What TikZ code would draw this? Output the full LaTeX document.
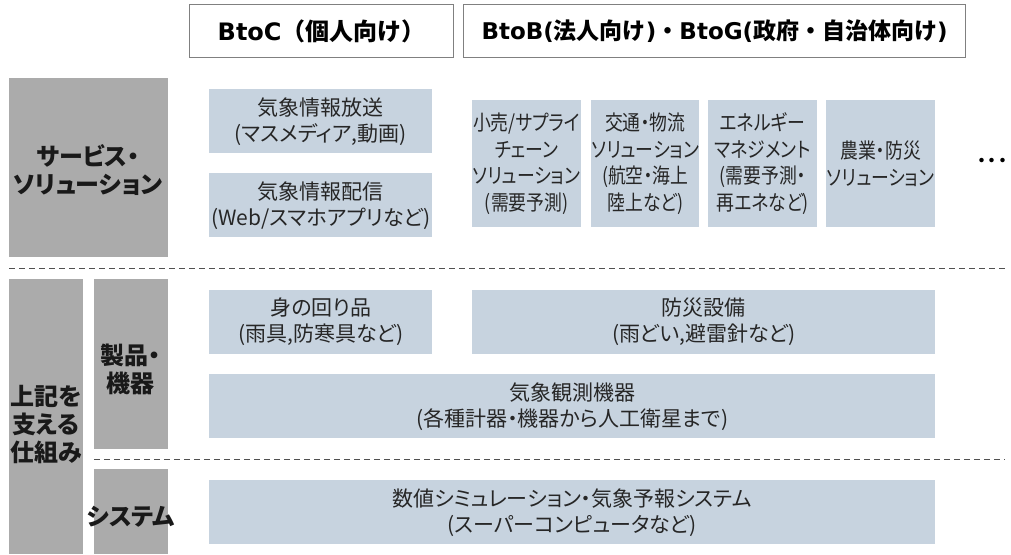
\documentclass[tikz,border=0pt]{standalone}
\usepackage{fontspec}
\setmainfont{Noto Sans CJK JP}[RawFeature=+palt]
\newfontfamily\plainjp{Noto Sans CJK JP}
\newfontfamily\paltjp{Noto Sans CJK JP}[RawFeature=+palt]
\newfontfamily\narrowjp{Noto Sans CJK JP}[RawFeature=+palt, FakeStretch=0.85]
\newfontfamily\latinbold{DejaVu Sans}[BoldFont={DejaVu Sans Bold}]
\definecolor{labelgray}{HTML}{ABABAB}
\definecolor{cellblue}{HTML}{C7D3DF}
\definecolor{framegray}{HTML}{808080}
\definecolor{dashgray}{HTML}{505050}
\tikzset{
  cell/.style={fill=cellblue, inner sep=0pt, align=center, anchor=north west,
    font=\fontsize{21}{26}\selectfont, text=black!85},
  narrowcell/.style={cell, font=\narrowjp\fontsize{21}{26.5}\selectfont},
  graylabel/.style={fill=labelgray, inner sep=0pt, anchor=north west},
  labeltext/.style={align=center, inner sep=0pt, font=\bfseries\fontsize{24}{28}\selectfont, text=black!90},
  header/.style={draw=framegray, line width=1.3pt, fill=white, inner sep=0pt, anchor=north west,
    font=\plainjp\bfseries\fontsize{24}{28}\selectfont},
  sepline/.style={draw=dashgray, line width=0.9pt, dash pattern=on 6pt off 4pt}
}
\newcommand\cellnode[7][cell]{\node[#1, minimum width=#5pt, minimum height=#6pt] (#2) at (#3,#4) {#7};}
\newcommand\grayblock[5]{\node[graylabel, minimum width=#4pt, minimum height=#5pt] (#1) at (#2,#3) {};}
\begin{document}
\begin{tikzpicture}[x=1pt, y=-1pt]
\useasboundingbox (0,0) rectangle (1011,554);
% headers
\node[header, minimum width=264pt, minimum height=53pt] (hc) at (189,4) {{\latinbold\bfseries BtoC}（個人向け）};
\node[header, minimum width=502pt, minimum height=53pt, font=\plainjp\bfseries\fontsize{23}{28}\selectfont] (hb) at (463,4) {{\latinbold\bfseries BtoB(}法人向け{\latinbold\bfseries )}・{\latinbold\bfseries BtoG(}政府・自治体向け{\latinbold\bfseries )}};
% gray label blocks
\grayblock{gs}{9}{78}{159}{179}
\grayblock{gk}{9}{279}{74}{275}
\grayblock{gp}{94}{279}{74}{170}
\grayblock{gy}{94}{469}{74}{85}
\node[labeltext] (ts) at (88,170) {サービス・\\ソリューション};
\node[labeltext] (tk) at (46,425) {上記を\\支える\\仕組み};
\node[labeltext] (tp) at (130,369) {製品・\\機器};
\node[labeltext] (ty) at (131,517) {システム};
% dashed separators
\coordinate (d1a) at (9,268);
\coordinate (d1b) at (1005,268);
\coordinate (d2a) at (94,459);
\coordinate (d2b) at (1005,459);
\draw[sepline] (d1a) -- (d1b);
\draw[sepline] (d2a) -- (d2b);
% service cells
\cellnode{c1}{209}{89}{223}{64}{気象情報放送\\(マスメディア,動画)}
\cellnode{c2}{209}{173}{223}{64}{気象情報配信\\(Web/スマホアプリなど)}
\cellnode[narrowcell]{b1}{472}{100}{109}{127}{小売/サプライ\\チェーン\\ソリューション\\(需要予測)}
\cellnode[narrowcell]{b2}{591}{100}{108}{127}{交通・物流\\ソリューション\\(航空・海上\\陸上など)}
\cellnode[narrowcell]{b3}{708}{100}{109}{127}{エネルギー\\マネジメント\\(需要予測・\\再エネなど)}
\cellnode[narrowcell]{b4}{826}{100}{109}{127}{農業・防災\\ソリューション}
\node[inner sep=0pt, font=\paltjp\fontsize{21}{26}\selectfont] (dots) at (992,163) {・・・};
% products and systems
\cellnode{p1}{209}{290}{223}{64}{身の回り品\\(雨具,防寒具など)}
\cellnode{p2}{472}{290}{463}{64}{防災設備\\(雨どい,避雷針など)}
\cellnode{p3}{209}{374}{726}{64}{気象観測機器\\(各種計器・機器から人工衛星まで)}
\cellnode{s1}{209}{480}{726}{64}{数値シミュレーション・気象予報システム\\(スーパーコンピュータなど)}
\end{tikzpicture}
\end{document}
